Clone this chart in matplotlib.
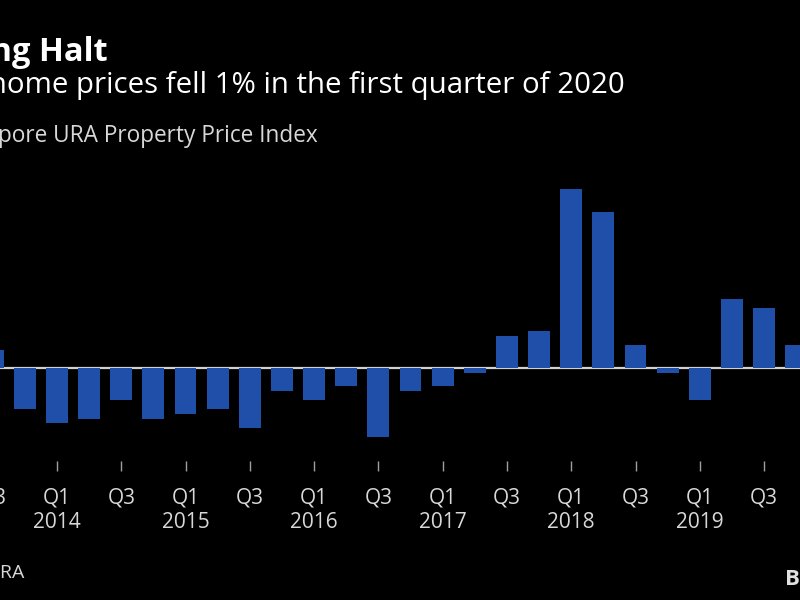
import matplotlib
matplotlib.use("Agg")
import matplotlib.pyplot as plt

plt.rcParams['font.family'] = ['Open Sans', 'DejaVu Sans']

quarters = ["2013 Q3", "2013 Q4",
            "2014 Q1", "2014 Q2", "2014 Q3", "2014 Q4",
            "2015 Q1", "2015 Q2", "2015 Q3", "2015 Q4",
            "2016 Q1", "2016 Q2", "2016 Q3", "2016 Q4",
            "2017 Q1", "2017 Q2", "2017 Q3", "2017 Q4",
            "2018 Q1", "2018 Q2", "2018 Q3", "2018 Q4",
            "2019 Q1", "2019 Q2", "2019 Q3", "2019 Q4",
            "2020 Q1"]
changes = [0.4, -0.9,
           -1.2, -1.1, -0.7, -1.1,
           -1.0, -0.9, -1.3, -0.5,
           -0.7, -0.4, -1.5, -0.5,
           -0.4, -0.1, 0.7, 0.8,
           3.9, 3.4, 0.5, -0.1,
           -0.7, 1.5, 1.3, 0.5,
           -1.0]

title = "Grinding Halt"
subtitle = "Singapore home prices fell 1% in the first quarter of 2020"
series_label = "Singapore URA Property Price Index"
source = "Source: URA"
brand = "Bloomberg"

W, H = 800, 600
fig = plt.figure(figsize=(8, 6), dpi=100, facecolor='black')

# axes extends beyond the figure edges (cropped view)
ax_left_px, ax_right_px = -40, 840
ax_top_px, ax_bot_px = 161, 461
ax = fig.add_axes([ax_left_px / W, (H - ax_bot_px) / H,
                   (ax_right_px - ax_left_px) / W, (ax_bot_px - ax_top_px) / H])
ax.set_facecolor('black')

x = list(range(len(quarters)))
ax.axhline(0, color='#d0d0d0', lw=1.6, zorder=1)
ax.bar(x, changes, width=0.68, color='#1f4fa8', zorder=2)

step = 32.14
x0 = -7.3
ax.set_xlim((ax_left_px - x0) / step, (ax_right_px - x0) / step)
ax.set_ylim((368 - ax_bot_px) / 46, (368 - ax_top_px) / 46)

tick_pos = []
tick_lab = []
for i, q in enumerate(quarters):
    yr, qq = q.split()
    if qq == "Q1":
        tick_pos.append(i)
        tick_lab.append("Q1\n" + yr)
    elif qq == "Q3":
        tick_pos.append(i)
        tick_lab.append("Q3")
ax.set_xticks(tick_pos)
ax.set_xticklabels(tick_lab)
for lbl in ax.get_xticklabels():
    lbl.set_linespacing(1.25)
ax.set_yticks([])
for s in ax.spines.values():
    s.set_visible(False)
ax.tick_params(axis='x', length=7, width=1, color='#a0a0a0', labelcolor='#d8d8d8',
               labelsize=15, pad=12)

fig.text(108 / W, 1 - 61 / H, title, ha='right', va='baseline', color='white',
         fontsize=23.5, fontweight='bold')
fig.text(625 / W, 1 - 93 / H, subtitle, ha='right', va='baseline', color='white',
         fontsize=21.2)
fig.text(318 / W, 1 - 142 / H, series_label, ha='right', va='baseline', color='#d8d8d8',
         fontsize=16.3)
fig.text(24 / W, 1 - 578 / H, source, ha='right', va='baseline', color='#d8d8d8',
         fontsize=14)
fig.text(785 / W, 1 - 585 / H, brand, ha='left', va='baseline', color='#e0e0e0',
         fontsize=16, fontweight='bold')

fig.savefig('out.png', dpi=100, facecolor='black')
